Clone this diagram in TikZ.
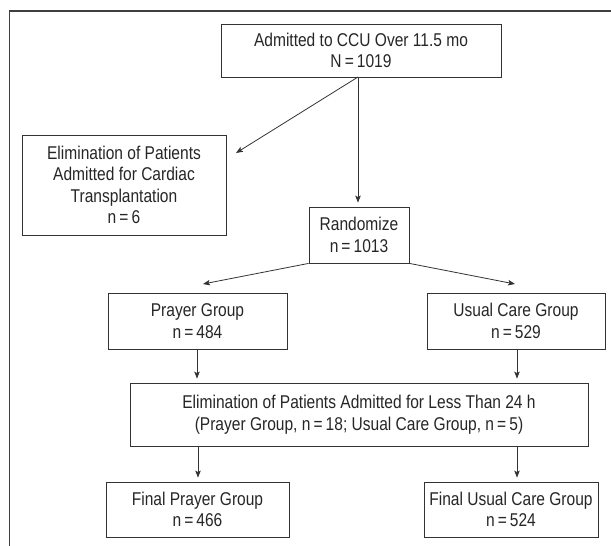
\documentclass[tikz,border=0pt]{standalone}
\usepackage{fontspec}
\setmainfont[FakeStretch=0.84]{Liberation Sans}
\usetikzlibrary{arrows.meta}

\begin{document}
\begin{tikzpicture}[x=1pt, y=-1pt, >={Stealth[length=7pt,width=5.5pt,inset=1.5pt]}, line width=0.8pt,
  box/.style={draw=black!80, inner sep=0pt, align=center,
    font=\fontsize{18.5}{21.5}\selectfont, text=black!85},
  flow/.style={->, draw=black!80, shorten >=4pt}]
  \useasboundingbox (0,0) rectangle (611,546);
  \draw [black!75, line width=1.1pt] (9.5,546) -- (9.5,11) -- (611,11);

  \node [box, minimum width=280pt, minimum height=53pt] (CCU) at (361, 50.5)
    {Admitted to CCU Over 11.5 mo\\N\,=\,1019};
  \node [box, minimum width=204pt, minimum height=100pt] (CT) at (124, 185)
    {Elimination of Patients\\Admitted for Cardiac\\Transplantation\\n\,=\,6};
  \node [box, minimum width=100pt, minimum height=56pt] (RND) at (359, 235)
    {Randomize\\n\,=\,1013};
  \node [box, minimum width=179pt, minimum height=56pt] (PG) at (197.5, 321)
    {Prayer Group\\n\,=\,484};
  \node [box, minimum width=178pt, minimum height=56pt] (UC) at (516, 321)
    {Usual Care Group\\n\,=\,529};
  \node [box, minimum width=458pt, minimum height=63pt] (LT) at (359, 414.5)
    {Elimination of Patients Admitted for Less Than 24 h\\(Prayer Group, n\,=\,18; Usual Care Group, n\,=\,5)};
  \node [box, minimum width=183pt, minimum height=55pt] (FPG) at (197.5, 509.5)
    {Final Prayer Group\\n\,=\,466};
  \node [box, minimum width=174pt, minimum height=55pt] (FUC) at (511, 509.5)
    {Final Usual Care Group\\n\,=\,524};

  \coordinate (CTin) at (236, 153);
  \coordinate (PGin) at (203, 284);
  \coordinate (UCin) at (515, 284);

  \draw [->, draw=black!80] (358, 77) -- (CTin);
  \draw [flow] (358, 77) -- (RND.north -| 358, 0);
  \draw [->, draw=black!80] (RND.south west) -- (PGin);
  \draw [->, draw=black!80] (RND.south east) -- (UCin);
  \draw [flow] (PG.south -| 197, 0) -- (LT.north -| 197, 0);
  \draw [flow] (UC.south -| 517, 0) -- (LT.north -| 517, 0);
  \draw [flow] (LT.south -| 198, 0) -- (FPG.north -| 198, 0);
  \draw [flow] (LT.south -| 517, 0) -- (FUC.north -| 517, 0);
\end{tikzpicture}
\end{document}
